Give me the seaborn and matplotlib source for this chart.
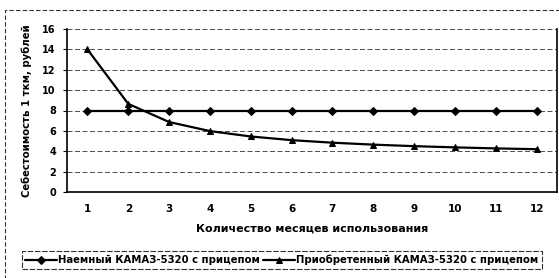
import pandas as pd
import seaborn as sns
import matplotlib.pyplot as plt
from matplotlib.patches import Rectangle

# Data
months = [1, 2, 3, 4, 5, 6, 7, 8, 9, 10, 11, 12]
hired_cost = [8, 8, 8, 8, 8, 8, 8, 8, 8, 8, 8, 8]
bought_cost = [14.0, 8.65, 6.87, 5.98, 5.45, 5.09, 4.84, 4.65, 4.5, 4.38, 4.28, 4.2]
hired_label = "Наемный КАМАЗ-5320 с прицепом"
bought_label = "Приобретенный КАМАЗ-5320 с прицепом"
y_ticks = [0, 2, 4, 6, 8, 10, 12, 14, 16]

df_hired = pd.DataFrame({"month": months, "cost": hired_cost})
df_bought = pd.DataFrame({"month": months, "cost": bought_cost})

sns.set_style("white")
plt.rcParams['font.family'] = ['DejaVu Sans']
plt.rcParams['font.weight'] = 'bold'
plt.rcParams['text.color'] = 'black'
plt.rcParams['axes.labelcolor'] = 'black'
plt.rcParams['xtick.color'] = 'black'
plt.rcParams['ytick.color'] = 'black'

fig = plt.figure(figsize=(5.59, 2.78), dpi=100)
ax = fig.add_axes([67 / 559, 1 - 192 / 278, 490 / 559, 163 / 278])

# outer dashed frame of the scanned figure
fig.patches.append(Rectangle((5 / 559, -0.05), 1.2, 1 - 10 / 278 + 0.05, transform=fig.transFigure,
                             fill=False, ls=(0, (4, 2)), lw=0.8, ec='#333333'))

sns.lineplot(data=df_hired, x="month", y="cost", ax=ax, color='black', lw=1.6,
             marker='D', markersize=4.5, markeredgecolor='black', label=hired_label)
sns.lineplot(data=df_bought, x="month", y="cost", ax=ax, color='black', lw=1.6,
             marker='^', markersize=5, markeredgecolor='black', label=bought_label)

ax.set_xlim(0.5, 12.5)
ax.set_ylim(0, 16)
ax.set_xticks(months)
ax.set_yticks(y_ticks)
ax.tick_params(axis='x', length=0, labelsize=7.5, pad=9)
ax.tick_params(axis='y', length=3, labelsize=7, pad=5, left=True, color='black')
for t in ax.get_xticklabels() + ax.get_yticklabels():
    t.set_fontweight('bold')

for y in y_ticks[1:]:
    ax.axhline(y, color='#333333', lw=0.6, ls=(0, (6, 3)), zorder=0)

ax.spines['top'].set_visible(False)
for s in ['left', 'bottom', 'right']:
    ax.spines[s].set_color('black')
    ax.spines[s].set_linewidth(1.2)

ax.set_xlabel("Количество месяцев использования", fontsize=8, fontweight='bold')
ax.xaxis.set_label_coords(0.5, -0.195)
ax.set_ylabel("Себестоимость 1 ткм, рублей", fontsize=7.3, fontweight='bold')
ax.yaxis.set_label_coords(-35 / 490, 0.5)

leg = ax.legend(loc='center', bbox_to_anchor=(282 / 559, 1 - 260 / 278), bbox_transform=fig.transFigure,
                ncol=2, frameon=True, fancybox=False, fontsize=7.3, handlelength=3.1,
                columnspacing=0.3, handletextpad=0.15, borderpad=0.35, borderaxespad=0)
leg.get_frame().set_edgecolor('black')
leg.get_frame().set_linewidth(0.8)
leg.get_frame().set_linestyle((0, (5, 1.5)))
for t in leg.get_texts():
    t.set_fontweight('bold')

fig.savefig("out.png", dpi=100)
